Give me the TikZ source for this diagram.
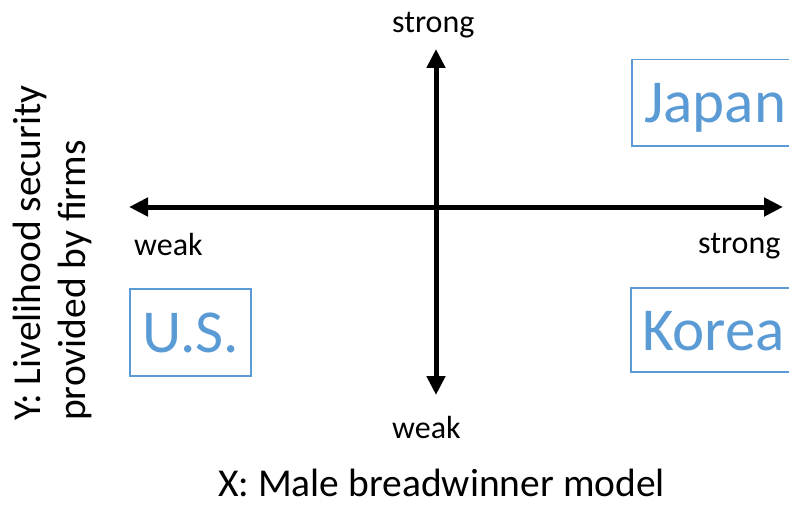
\documentclass[tikz,border=0pt]{standalone}
\usepackage{fontspec}
\setmainfont{Carlito}
\usetikzlibrary{arrows.meta}
\definecolor{accent}{HTML}{5B9BD5}
\begin{document}
\begin{tikzpicture}[x=1pt,y=-1pt,
  axis/.style={line width=5pt, {Triangle[length=19pt,width=18pt]}-{Triangle[length=19pt,width=18pt]}},
  endlabel/.style={font=\fontsize{32}{36}\selectfont, inner sep=0pt, anchor=base west},
  countrybox/.style={draw=accent, line width=1.5pt, inner sep=0pt, anchor=north west},
  country/.style={text=accent, font=\fontsize{61}{66}\selectfont, inner sep=0pt, anchor=base west},
  axistitle/.style={font=\fontsize{39.5}{45}\selectfont, inner sep=0pt}]
\useasboundingbox (0,0) rectangle (789,508);
\clip (0,0) rectangle (789,508);

% axis ends
\coordinate (L) at (129,207);
\coordinate (R) at (783,207);
\coordinate (T) at (436,49);
\coordinate (B) at (436,395);
\draw[axis] (L) -- (R);
\draw[axis] (T) -- (B);

% axis end labels
\node[endlabel] (ystrong) at (392,33) {strong};
\node[endlabel] (xweak) at (134,255) {weak};
\node[endlabel] (xstrong) at (698,253) {strong};
\node[endlabel] (yweak) at (392,438) {weak};

% country boxes
\node[countrybox, minimum width=170pt, minimum height=86pt] (jpbox) at (631,59) {};
\node[country] (jp) at (644,122) {Japan};
\node[countrybox, minimum width=121pt, minimum height=87pt] (usbox) at (129,288) {};
\node[country] (us) at (142,352) {U.S.};
\node[countrybox, minimum width=170pt, minimum height=84pt] (krbox) at (630,287) {};
\node[country] (kr) at (642,350) {Korea};

% axis titles
\node[axistitle, anchor=base west] (xtitle) at (218,496) {X: Male breadwinner model};
\node[axistitle, rotate=90, anchor=north west, align=left] (ytitle) at (13,421)
  {Y: Livelihood security\\provided by firms};
\end{tikzpicture}
\end{document}
